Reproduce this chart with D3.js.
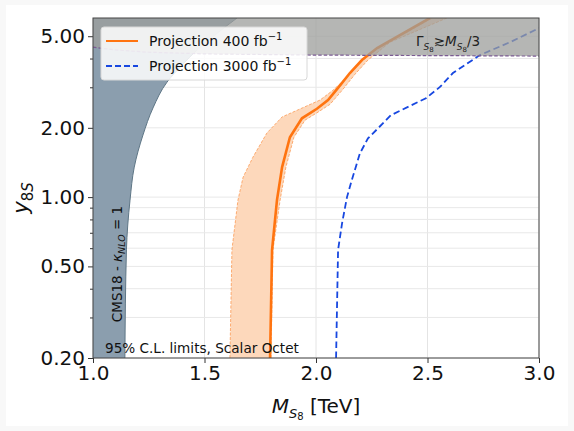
<!DOCTYPE html>
<html>
<head>
<meta charset="utf-8">
<script src="https://cdn.jsdelivr.net/npm/d3@7"></script>
<style>
  body { margin: 0; background: #f8f8f8; }
  svg { display: block; font-family: "DejaVu Sans", sans-serif; }
</style>
</head>
<body>
<div id="chart"></div>
<script>
// limits: [M_S8 in TeV, y_8S]
var cmsBound = [[1.646, 6.0], [1.54, 5.0], [1.466, 4.35], [1.40, 3.75], [1.332, 3.16], [1.269, 2.44],
    [1.224, 1.86], [1.185, 1.35], [1.166, 0.97], [1.150, 0.59], [1.143, 0.2]];
var proj400 = [[1.794, 0.2], [1.803, 0.59], [1.825, 0.97], [1.848, 1.35], [1.883, 1.82], [1.937, 2.2],
    [2.004, 2.42], [2.054, 2.64], [2.108, 3.06], [2.152, 3.46], [2.206, 3.94], [2.274, 4.44], [2.511, 6.0]];
var band400Low = [[1.614, 0.2], [1.623, 0.59], [1.650, 0.97], [1.673, 1.22], [1.717, 1.49], [1.780, 1.90],
    [1.848, 2.23], [2.018, 2.64], [2.076, 2.91], [2.139, 3.32], [2.197, 3.82], [2.251, 4.26], [2.52, 6.0]];
var band400High = [[1.798, 0.2], [1.807, 0.59], [1.839, 0.97], [1.865, 1.35], [1.901, 1.82], [1.951, 2.16],
    [2.009, 2.34], [2.063, 2.53], [2.117, 2.91], [2.175, 3.42], [2.233, 3.94], [2.332, 4.71], [2.587, 6.0]];
var proj3000 = [[2.090, 0.2], [2.099, 0.59], [2.117, 0.771], [2.139, 1.0], [2.161, 1.19], [2.197, 1.55],
    [2.233, 1.80], [2.278, 1.99], [2.336, 2.27], [2.493, 2.69], [2.556, 3.01], [2.614, 3.46], [2.735, 4.14],
    [2.870, 4.71], [3.0, 5.42]];
var widthBound = [[1.0, 4.48], [1.1, 4.36], [1.25, 4.26], [1.5, 4.19], [2.0, 4.14], [2.5, 4.12], [3.0, 4.10]];

var xTicks = [1.0, 1.5, 2.0, 2.5, 3.0];
var yTicks = [0.2, 0.5, 1.0, 2.0, 5.0];
var yMinor = [0.3, 0.4, 0.6, 0.7, 0.8, 0.9, 3, 4];

var W = 574, H = 431;
var m = {left: 93, right: 35, top: 18, bottom: 73};

var svg = d3.select("#chart").append("svg")
    .attr("width", W)
    .attr("height", H);

svg.append("rect")
    .attr("x", 6).attr("y", 5)
    .attr("width", W - 12).attr("height", H - 10)
    .attr("fill", "#fff");

var x = d3.scaleLinear().domain([1.0, 3.0]).range([m.left, W - m.right]);
var y = d3.scaleLog().domain([0.2, 6.0]).range([H - m.bottom, m.top]);

var defs = svg.append("defs");
defs.append("clipPath").attr("id", "clip")
    .append("rect")
    .attr("x", x(1.0)).attr("y", y(6.0))
    .attr("width", x(3.0) - x(1.0)).attr("height", y(0.2) - y(6.0));

// grid
var grid = svg.append("g");
grid.selectAll(".gx").data(xTicks).enter().append("line")
    .attr("x1", d => x(d)).attr("x2", d => x(d))
    .attr("y1", y(6.0)).attr("y2", y(0.2))
    .style("stroke", "#e4e4e4").style("stroke-width", 1);
grid.selectAll(".gy").data(yTicks.concat(yMinor)).enter().append("line")
    .attr("x1", x(1.0)).attr("x2", x(3.0))
    .attr("y1", d => y(d)).attr("y2", d => y(d))
    .style("stroke", "#e8e8e8").style("stroke-width", 1);

var plot = svg.append("g").attr("clip-path", "url(#clip)");

var line = d3.line().x(d => x(d[0])).y(d => y(d[1]));
var smooth = d3.line().x(d => x(d[0])).y(d => y(d[1])).curve(d3.curveMonotoneY);

// CMS18 excluded area
plot.append("path")
    .attr("d", smooth(cmsBound) + "L" + x(1.0) + "," + y(0.2) + "L" + x(1.0) + "," + y(6.0) + "Z")
    .style("fill", "#8b9eae")
    .style("stroke", "none");
plot.append("path")
    .attr("d", smooth(cmsBound))
    .style("fill", "none")
    .style("stroke", "#5e7686")
    .style("stroke-width", 1);

// 400 fb-1 band
var band = band400Low.concat(band400High.slice().reverse());
plot.append("path")
    .attr("d", line(band) + "Z")
    .style("fill", "#fdd8bb")
    .style("stroke", "none");
[band400Low, band400High].forEach(function (b) {
    plot.append("path")
        .attr("d", line(b))
        .style("fill", "none")
        .style("stroke", "#fb9a55")
        .style("stroke-width", 0.8)
        .style("stroke-dasharray", "3,1.5");
});
plot.append("path")
    .attr("d", line(proj400))
    .style("fill", "none")
    .style("stroke", "#ff7410")
    .style("stroke-width", 2.6);

// 3000 fb-1
plot.append("path")
    .attr("d", line(proj3000))
    .style("fill", "none")
    .style("stroke", "#1747e0")
    .style("stroke-width", 1.8)
    .style("stroke-dasharray", "6.5,3.5");

// width > M/3 region
var wideArea = widthBound.concat([[3.0, 6.0], [1.0, 6.0]]);
plot.append("path")
    .attr("d", line(wideArea) + "Z")
    .style("fill", "#9c9e9b")
    .style("fill-opacity", 0.75);
plot.append("path")
    .attr("d", line(widthBound))
    .style("fill", "none")
    .style("stroke", "#7a5a92")
    .style("stroke-width", 1.2)
    .style("stroke-dasharray", "3.5,2");

var gtext = svg.append("text")
    .attr("x", 416).attr("y", 46)
    .style("font-size", "13.5px")
    .style("fill", "#222");
gtext.append("tspan").text("Γ");
gtext.append("tspan").attr("dy", 4).style("font-size", "9px").style("font-style", "italic").text("S");
gtext.append("tspan").attr("dy", 1.5).style("font-size", "7px").text("8");
gtext.append("tspan").attr("dy", -5.5).text("≳");
gtext.append("tspan").style("font-style", "italic").text("M");
gtext.append("tspan").attr("dy", 4).style("font-size", "9px").style("font-style", "italic").text("S");
gtext.append("tspan").attr("dy", 1.5).style("font-size", "7px").text("8");
gtext.append("tspan").attr("dy", -5.5).text("/3");

// annotations
var ctext = svg.append("text")
    .attr("transform", "translate(122,264) rotate(-90)")
    .attr("text-anchor", "middle")
    .style("font-size", "13.5px")
    .style("fill", "#111");
ctext.append("tspan").text("CMS18 - ");
ctext.append("tspan").style("font-style", "italic").text("κ");
ctext.append("tspan").attr("dy", 3).style("font-size", "9.5px").style("font-style", "italic").text("NLO");
ctext.append("tspan").attr("dy", -3).text(" = 1");

svg.append("text")
    .attr("x", 105).attr("y", 353)
    .style("font-size", "13.6px")
    .style("fill", "#111")
    .text("95% C.L. limits, Scalar Octet");

// legend
var lg = svg.append("g");
lg.append("rect")
    .attr("x", 101).attr("y", 27)
    .attr("width", 206).attr("height", 53)
    .attr("rx", 3)
    .style("fill", "#fff").style("fill-opacity", 0.85)
    .style("stroke", "#d8d8d8");
var items = [
    {label: "Projection 400 fb", color: "#ff7410", dash: null, w: 2},
    {label: "Projection 3000 fb", color: "#1747e0", dash: "6,3", w: 1.8}
];
items.forEach(function (it, i) {
    var yy = 41 + i * 25;
    lg.append("line")
        .attr("x1", 106).attr("x2", 138)
        .attr("y1", yy).attr("y2", yy)
        .style("stroke", it.color)
        .style("stroke-width", it.w)
        .style("stroke-dasharray", it.dash);
    var t = lg.append("text")
        .attr("x", 149).attr("y", yy + 5)
        .style("font-size", "14px")
        .style("fill", "#111");
    t.append("tspan").text(it.label);
    t.append("tspan").attr("dy", -6).style("font-size", "10px").text("−1");
});

// axes
var xAxis = svg.append("g")
    .attr("transform", "translate(0," + y(0.2) + ")")
    .call(d3.axisBottom(x).tickValues(xTicks).tickFormat(d3.format(".1f")).tickSize(5).tickPadding(3));
var yAxis = svg.append("g")
    .attr("transform", "translate(" + x(1.0) + ",0)")
    .call(d3.axisLeft(y).tickValues(yTicks).tickFormat(d3.format(".2f")).tickSize(5).tickPadding(3));
svg.append("g")
    .attr("transform", "translate(" + x(1.0) + ",0)")
    .call(d3.axisLeft(y).tickValues(yMinor).tickFormat("").tickSize(3))
    .select(".domain").remove();

[xAxis, yAxis].forEach(function (a) {
    a.selectAll("text")
        .style("font-family", "DejaVu Sans, sans-serif")
        .style("font-size", "20px")
        .style("fill", "#111");
    a.select(".domain").remove();
});
svg.selectAll(".tick line").style("stroke", "#333");

// frame
svg.append("rect")
    .attr("x", x(1.0)).attr("y", y(6.0))
    .attr("width", x(3.0) - x(1.0)).attr("height", y(0.2) - y(6.0))
    .style("fill", "none")
    .style("stroke", "#444")
    .style("stroke-width", 1);

// axis labels
var xl = svg.append("text")
    .attr("x", 316).attr("y", 413)
    .attr("text-anchor", "middle")
    .style("font-size", "20px")
    .style("fill", "#111");
xl.append("tspan").style("font-style", "italic").text("M");
xl.append("tspan").attr("dy", 5).style("font-size", "13px").style("font-style", "italic").text("S");
xl.append("tspan").attr("dy", 2).style("font-size", "10px").text("8");
xl.append("tspan").attr("dy", -7).text(" [TeV]");

var yl = svg.append("text")
    .attr("transform", "translate(28,198) rotate(-90)")
    .attr("text-anchor", "middle")
    .style("font-size", "21px")
    .style("fill", "#111");
yl.append("tspan").style("font-style", "italic").text("y");
yl.append("tspan").attr("dy", 5).style("font-size", "15px").text("8");
yl.append("tspan").style("font-size", "15px").style("font-style", "italic").text("S");
</script>
</body>
</html>
